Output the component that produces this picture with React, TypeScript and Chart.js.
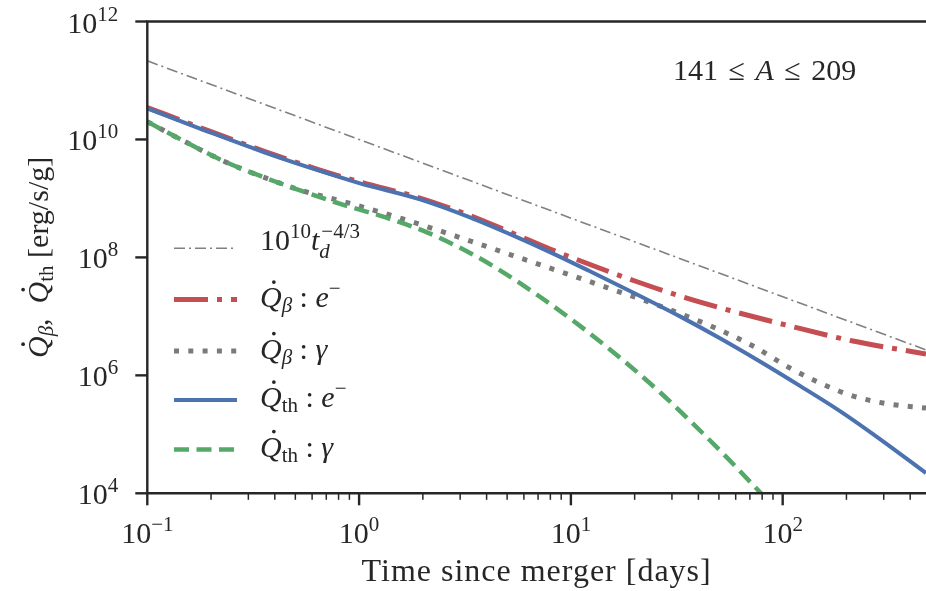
import { useEffect, useRef } from "react";
import { Chart, registerables } from "chart.js";

Chart.register(...registerables);

const WIDTH = 926;
const HEIGHT = 591;

// Reference power law 1e10 * t^(-4/3), end points
const guideTime = [0.1, 475];
const guideRate = [2.15e11, 2.7e6];

// Beta-decay heating rate carried by electrons
const betaElecTime = [0.1, 0.1773, 0.3595, 0.6536, 1.01, 1.939, 3.339, 5.159, 7.967, 12.31, 20.08, 32.74, 56.4, 108.2, 214.7, 475];
const betaElecRate = [3.48e10, 1.594e10, 6.25e9, 3.03e9, 1.9e9, 1.016e9, 5.13e8, 2.69e8, 1.387e8, 7.57e7, 3.98e7, 2.21e7, 1.257e7, 6.86e6, 3.82e6, 2.3e6];

// Beta-decay heating rate carried by gamma rays
const betaGammaTime = [0.1, 0.1507, 0.2328, 0.3595, 0.5552, 0.8578, 1.612, 2.899, 5.159, 9.18, 14.81, 26.34, 46.9, 72.4, 108.2, 150.1, 207.8, 297.5, 475];
const betaGammaRate = [2.0e10, 9.16e9, 4.19e9, 2.245e9, 1.31e9, 8.7e8, 4.48e8, 2.26e8, 1.119e8, 5.54e7, 3.08e7, 1.498e7, 6.6e6, 3.14e6, 1.331e6, 7.41e5, 4.64e5, 3.39e5, 2.78e5];

// Thermalised heating rate, electrons
const thElecTime = [0.1, 0.1773, 0.3595, 0.6536, 1.01, 1.939, 3.339, 5.159, 7.967, 12.31, 20.08, 32.74, 50.58, 78.13, 120.7, 186.5, 288.0, 475];
const thElecRate = [3.35e10, 1.533e10, 6.0e9, 2.93e9, 1.804e9, 9.66e8, 4.78e8, 2.48e8, 1.23e8, 5.81e7, 2.45e7, 1.0e7, 4.25e6, 1.715e6, 6.62e5, 2.47e5, 8.29e4, 2.2e4];

// Thermalised heating rate, gamma rays
const thGammaTime = [0.1, 0.1507, 0.2328, 0.3595, 0.5552, 0.8578, 1.325, 2.092, 3.339, 4.627, 7.146, 11.04, 18.4, 26.34, 37.71, 54.58, 78.13, 108.2];
const thGammaRate = [2.0e10, 9.16e9, 4.19e9, 2.245e9, 1.28e9, 7.64e8, 4.8e8, 2.66e8, 1.19e8, 6.04e7, 2.15e7, 6.89e6, 1.59e6, 5.17e5, 1.52e5, 4.02e4, 1.04e4, 2.9e3];

const xTickExponents = [-1, 0, 1, 2];
const yTickExponents = [4, 6, 8, 10, 12];

const xAxisTitle = "Time since merger [days]";
const massRange = { lo: "141", sym: "A", hi: "209" };

const FONT = '"Liberation Serif", "Times New Roman", serif';
const INK = "#262626";
const MAIN = 30;
const SMALL = 21;

type Run = {
  t: string;
  size?: number;
  italic?: boolean;
  dy?: number;
  dx?: number;
  hold?: boolean;
  dot?: boolean;
};

function fontOf(r: Run) {
  return `${r.italic ? "italic " : ""}${r.size ?? MAIN}px ${FONT}`;
}

function runsWidth(ctx: CanvasRenderingContext2D, runs: Run[]) {
  let w = 0;
  for (const r of runs) {
    ctx.font = fontOf(r);
    if (!r.hold) w += ctx.measureText(r.t).width + (r.dx ?? 0);
  }
  return w;
}

function drawRuns(
  ctx: CanvasRenderingContext2D,
  runs: Run[],
  x: number,
  y: number,
  align: "left" | "center" | "right"
) {
  const w = runsWidth(ctx, runs);
  let cx = align === "left" ? x : align === "center" ? x - w / 2 : x - w;
  ctx.textAlign = "left";
  ctx.textBaseline = "alphabetic";
  for (const r of runs) {
    ctx.font = fontOf(r);
    const rw = ctx.measureText(r.t).width;
    const px = cx + (r.dx ?? 0);
    const py = y + (r.dy ?? 0);
    ctx.fillText(r.t, px, py);
    if (r.dot) {
      const s = r.size ?? MAIN;
      ctx.beginPath();
      ctx.arc(px + rw * 0.64, py - s * 0.83, s * 0.062, 0, Math.PI * 2);
      ctx.fill();
    }
    if (!r.hold) cx += rw + (r.dx ?? 0);
  }
}

const Qdot: Run = { t: "Q", italic: true, dot: true };
const subBeta: Run = { t: "β", italic: true, size: SMALL, dy: 5 };
const subTh: Run = { t: "th", size: SMALL, dy: 5 };

const legendLabels: Run[][] = [
  [
    { t: "10" },
    { t: "10", size: SMALL, dy: -12 },
    { t: "t", italic: true },
    { t: "d", italic: true, size: SMALL, dy: 8, hold: true },
    { t: "−4/3", size: SMALL, dy: -12, dx: 2 },
  ],
  [Qdot, subBeta, { t: " : " }, { t: "e", italic: true }, { t: "−", size: SMALL, dy: -12 }],
  [Qdot, subBeta, { t: " : " }, { t: "γ", italic: true }],
  [Qdot, subTh, { t: " : " }, { t: "e", italic: true }, { t: "−", size: SMALL, dy: -12 }],
  [Qdot, subTh, { t: " : " }, { t: "γ", italic: true }],
];

const yTitle: Run[] = [Qdot, subBeta, { t: ",  " }, Qdot, subTh, { t: " [erg/s/g]" }];

const pairs = (xs: number[], ys: number[]) => xs.map((x, i) => ({ x, y: ys[i] }));

const decorations = {
  id: "decorations",
  afterDraw(chart: any) {
    const ctx: CanvasRenderingContext2D = chart.ctx;
    const { left, right, top, bottom } = chart.chartArea;
    const xs = chart.scales.x;
    const ys = chart.scales.y;
    ctx.save();
    ctx.fillStyle = INK;
    ctx.strokeStyle = INK;

    // spines: left, top, bottom
    ctx.lineWidth = 2.4;
    ctx.lineCap = "butt";
    ctx.beginPath();
    ctx.moveTo(left, bottom + 1.2);
    ctx.lineTo(left, top - 1.2);
    ctx.moveTo(left, top);
    ctx.lineTo(right, top);
    ctx.moveTo(left, bottom);
    ctx.lineTo(right, bottom);
    ctx.stroke();

    // x ticks: majors and minors
    const xmin = xs.min;
    const xmax = xs.max;
    for (let e = -1; e <= 3; e++) {
      for (let m = 1; m <= 9; m++) {
        const v = m * Math.pow(10, e);
        if (v < xmin * 0.999 || v > xmax * 1.001) continue;
        const px = xs.getPixelForValue(v);
        ctx.lineWidth = m === 1 ? 2.4 : 1.5;
        ctx.beginPath();
        ctx.moveTo(px, bottom);
        ctx.lineTo(px, bottom + (m === 1 ? 12 : 6.5));
        ctx.stroke();
      }
    }
    // y ticks
    ctx.lineWidth = 2.4;
    for (const e of yTickExponents) {
      const py = ys.getPixelForValue(Math.pow(10, e));
      ctx.beginPath();
      ctx.moveTo(left, py);
      ctx.lineTo(left - 12, py);
      ctx.stroke();
    }

    // tick labels
    for (const e of xTickExponents) {
      const px = xs.getPixelForValue(Math.pow(10, e));
      const ex = e < 0 ? "−" + String(-e) : String(e);
      drawRuns(ctx, [{ t: "10" }, { t: ex, size: SMALL, dy: -12 }], px, bottom + 50, "center");
    }
    for (const e of yTickExponents) {
      const py = ys.getPixelForValue(Math.pow(10, e));
      drawRuns(ctx, [{ t: "10" }, { t: String(e), size: SMALL, dy: -12 }], left - 29, py + 11, "right");
    }

    // axis titles
    ctx.save();
    (ctx as any).letterSpacing = "1px";
    drawRuns(ctx, [{ t: xAxisTitle, size: 32 }], (left + right) / 2, 581, "center");
    ctx.restore();

    ctx.save();
    ctx.translate(48, (top + bottom) / 2);
    ctx.rotate(-Math.PI / 2);
    drawRuns(ctx, yTitle, 0, 0, "center");
    ctx.restore();

    // mass-number range
    drawRuns(
      ctx,
      [
        { t: massRange.lo },
        { t: " ≤ ", dx: 3 },
        { t: massRange.sym, italic: true, dx: 3 },
        { t: " ≤ ", dx: 3 },
        { t: massRange.hi, dx: 3 },
      ],
      673,
      80,
      "left"
    );

    // legend
    const datasets = chart.data.datasets;
    const rowY = [248.3, 299.5, 351, 400, 449.5];
    const baseOff = [2, 7.5, 7.5, 7, 7];
    datasets.forEach((ds: any, i: number) => {
      const y = rowY[i];
      ctx.save();
      ctx.strokeStyle = ds.borderColor;
      ctx.lineWidth = ds.borderWidth;
      ctx.setLineDash(ds.borderDash || []);
      ctx.lineCap = "butt";
      ctx.beginPath();
      ctx.moveTo(174, y);
      ctx.lineTo(237, y);
      ctx.stroke();
      ctx.restore();
      drawRuns(ctx, legendLabels[i], 260, y + baseOff[i], "left");
    });

    ctx.restore();
  },
};

export default function App() {
  const canvasRef = useRef<HTMLCanvasElement | null>(null);

  useEffect(() => {
    const canvas = canvasRef.current;
    if (!canvas) return;
    const line = (data: any[], color: string, width: number, dash: number[], order: number) => ({
      data,
      borderColor: color,
      borderWidth: width,
      borderDash: dash,
      borderCapStyle: "butt",
      borderJoinStyle: "round",
      pointRadius: 0,
      fill: false,
      cubicInterpolationMode: "monotone",
      order,
    });
    const chart = new Chart(canvas, {
      type: "line",
      data: {
        datasets: [
          line(pairs(guideTime, guideRate), "#808080", 1.6, [11, 4, 2, 4], 5),
          line(pairs(betaElecTime, betaElecRate), "#C44E52", 5, [34, 9, 5, 9], 4),
          line(pairs(betaGammaTime, betaGammaRate), "#7a7a7a", 5, [5, 9.3], 3),
          line(pairs(thElecTime, thElecRate), "#4C72B0", 4, [], 2),
          line(pairs(thGammaTime, thGammaRate), "#55A868", 4.5, [15, 7.5], 1),
        ] as any,
      },
      options: {
        responsive: false,
        animation: false,
        devicePixelRatio: 1,
        events: [],
        layout: { padding: { left: 147.3, right: 0, top: 21.5, bottom: 97.7 } },
        scales: {
          x: { type: "logarithmic", min: 0.1, max: 475, display: false },
          y: { type: "logarithmic", min: 1e4, max: 1e12, display: false },
        },
        plugins: {
          legend: { display: false },
          tooltip: { enabled: false },
          title: { display: false },
        },
      },
      plugins: [decorations as any],
    });
    return () => chart.destroy();
  }, []);

  return (
    <div
      style={{
        position: "fixed",
        left: 0,
        top: 0,
        width: WIDTH,
        height: HEIGHT,
        background: "#ffffff",
        overflow: "hidden",
      }}
    >
      <canvas ref={canvasRef} width={WIDTH} height={HEIGHT} style={{ display: "block" }} />
    </div>
  );
}
